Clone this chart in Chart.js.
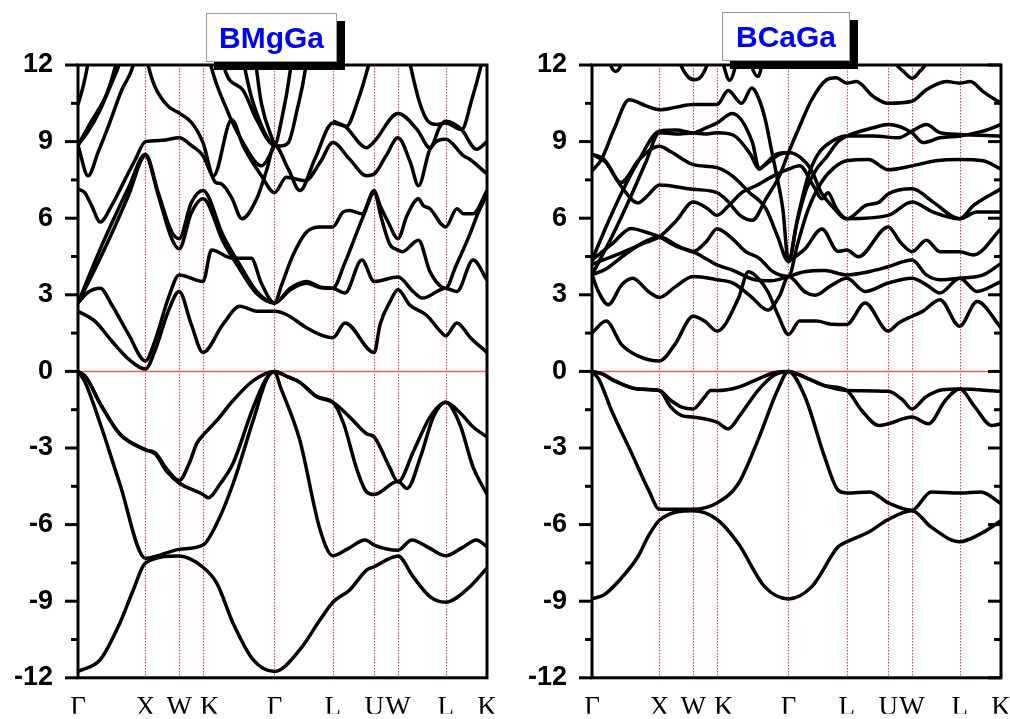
<!DOCTYPE html>
<html lang="en">
<head>
<meta charset="UTF-8">
<title>BMgGa / BCaGa</title>
<script src="https://cdn.jsdelivr.net/npm/chart.js"></script>
<style>
    body { margin: 0; background: #fff; width: 1010px; height: 719px; position: relative; overflow: hidden; }
    .painel { position: absolute; top: 0; width: 505px; height: 719px; }
    .titulo { position: absolute; z-index: 2; background: #fff; border: 1px solid #999; box-shadow: 8px 8px 0 #000;
              color: #0000ff; font: bold 30px "Liberation Sans", Arial, sans-serif; text-align: center; line-height: 47px; }
</style>
</head>
<body>
<div class="painel" style="left: 0;"><canvas id="chartMg"></canvas></div>
<div class="painel" style="left: 505px;"><canvas id="chartCa"></canvas></div>
<div class="titulo" style="left: 206px; top: 13px; width: 129px; height: 47px;">BMgGa</div>
<div class="titulo" style="left: 722px; top: 12px; width: 126px; height: 47px;">BCaGa</div>
<script>
    // caminho de alta simetria (distancia acumulada, 2pi/a)
    const kTicks = [0, 1, 1.5, 1.854, 2.914, 3.780, 4.393, 4.746, 5.453, 6.066];
    const kLabels = ['Γ', 'X', 'W', '  K', 'Γ', 'L', 'U', 'W', 'L', 'K'];
    const eTicks = [-12, -9, -6, -3, 0, 3, 6, 9, 12];

    // ---- BMgGa : bandas [k, E(eV)]
    const mgV1 = [[0,-11.75],[0.33,-11.29],[0.62,-9.86],[0.82,-8.56],[1,-7.5],[1.5,-7.23],[1.854,-7.67],[2.06,-8.3],[2.3,-9.86],[2.6,-11.3],[2.914,-11.75],[3.29,-10.9],[3.59,-9.73],[3.78,-9.04],[4.03,-8.56],[4.28,-7.78],[4.393,-7.65],[4.746,-7.23],[4.97,-8.04],[5.22,-8.82],[5.453,-9.04],[5.76,-8.56],[6.066,-7.71]];
    const mgV2 = [[0,0],[0.1,-0.4],[0.33,-2.05],[0.62,-4.4],[1,-7.32],[1.5,-6.97],[1.854,-6.8],[2.06,-5.95],[2.3,-4.4],[2.6,-1.9],[2.8,-0.3],[2.914,0],[3.0,-0.6],[3.29,-2.7],[3.59,-6.2],[3.78,-7.22],[4.0,-6.95],[4.26,-6.6],[4.393,-6.8],[4.746,-7.0],[4.95,-6.6],[5.2,-6.9],[5.453,-7.22],[5.7,-6.9],[5.91,-6.6],[6.066,-6.87]];
    const mgV3 = [[0,0],[0.12,-0.23],[0.33,-1.27],[0.62,-2.45],[1,-3.07],[1.15,-3.25],[1.31,-3.9],[1.5,-4.37],[1.854,-4.82],[1.93,-4.95],[2.11,-4.4],[2.3,-3.6],[2.6,-1.4],[2.8,-0.25],[2.914,0],[3.1,-0.2],[3.29,-0.43],[3.55,-1.0],[3.78,-1.21],[3.94,-2.05],[4.14,-3.87],[4.28,-4.72],[4.393,-4.82],[4.746,-4.3],[4.88,-4.59],[5.08,-3.35],[5.27,-1.79],[5.453,-1.21],[5.66,-2.05],[5.86,-3.75],[6.066,-4.82]];
    const mgV4 = [[0,0],[0.12,-0.23],[0.33,-1.27],[0.62,-2.45],[1,-3.07],[1.15,-3.2],[1.31,-3.8],[1.5,-4.27],[1.65,-3.6],[1.76,-2.83],[1.854,-2.5],[2.06,-1.92],[2.3,-1.14],[2.6,-0.36],[2.914,0],[3.1,-0.2],[3.29,-0.43],[3.55,-1.0],[3.78,-1.21],[4.03,-1.79],[4.28,-2.44],[4.393,-2.57],[4.62,-3.75],[4.746,-4.33],[4.98,-3.1],[5.22,-1.79],[5.453,-1.21],[5.66,-1.6],[5.86,-2.18],[6.066,-2.57]];
    const mgC1 = [[0,2.36],[0.25,1.97],[0.5,1.19],[0.75,0.48],[1,0.09],[1.14,0.8],[1.34,2.36],[1.5,3.13],[1.68,1.84],[1.854,0.74],[2.15,1.84],[2.4,2.55],[2.65,2.36],[2.914,2.36],[3.09,2.23],[3.39,1.71],[3.64,1.39],[3.78,1.32],[3.96,1.9],[4.393,0.74],[4.48,1.84],[4.63,2.74],[4.746,3.2],[4.92,2.6],[5.17,2.2],[5.37,1.58],[5.453,1.39],[5.62,1.9],[5.82,1.32],[6.066,0.74]];
    const mgC2 = [[0,2.68],[0.15,3.1],[0.33,3.26],[0.5,2.61],[0.75,1.45],[1,0.41],[1.14,1.19],[1.34,2.87],[1.5,3.78],[1.854,3.52],[1.98,4.75],[2.3,4.43],[2.57,4.43],[2.72,3.45],[2.914,2.68],[3.15,3.26],[3.39,3.52],[3.6,3.3],[3.78,3.26],[3.96,3.07],[4.21,4.36],[4.393,3.52],[4.746,3.7],[4.97,3.13],[5.11,2.87],[5.453,3.26],[5.62,3.13],[5.86,4.36],[6.066,3.58]];
    const mgC3 = [[0,2.68],[0.25,4.3],[0.5,5.8],[0.75,7.2],[1,8.5],[1.19,7.0],[1.39,5.46],[1.5,5.2],[1.68,6.6],[1.854,7.08],[2.15,5.33],[2.4,4.17],[2.65,3.13],[2.914,2.68],[3.02,3.39],[3.19,4.56],[3.39,5.46],[3.59,5.66],[3.78,5.66],[3.93,6.24],[4.03,6.3],[4.21,6.17],[4.393,7.08],[4.48,6.5],[4.6,5.85],[4.746,5.2],[4.88,6.11],[5.05,6.76],[5.12,6.5],[5.22,6.37],[5.453,5.66],[5.62,6.37],[5.72,6.17],[5.86,6.17],[6.066,7.08]];
    const mgC4 = [[0,2.68],[0.25,4.0],[0.5,5.4],[0.75,6.9],[1,8.45],[1.19,6.9],[1.39,5.2],[1.5,4.8],[1.68,6.2],[1.854,6.76],[2.15,5.1],[2.4,4.0],[2.65,3.05],[2.914,2.68],[3.15,3.2],[3.39,3.45],[3.6,3.28],[3.78,3.26],[3.95,4.2],[4.1,5.2],[4.25,6.2],[4.393,7.0],[4.5,6.0],[4.62,5.0],[4.746,4.75],[4.81,4.69],[5.05,5.14],[5.22,3.91],[5.453,3.26],[5.6,4.1],[5.8,5.3],[5.95,6.3],[6.066,6.9]];
    const mgC5 = [[0,7.15],[0.1,7.0],[0.2,6.5],[0.33,5.85],[0.5,6.5],[0.7,7.53],[0.85,8.3],[1,9.0],[1.25,9.05],[1.5,9.15],[1.69,8.83],[1.854,8.44],[1.98,7.7],[2.04,7.4],[2.12,7.35],[2.28,6.8],[2.43,5.98],[2.65,6.76],[2.8,7.9],[2.914,8.86],[3.12,7.92],[3.29,7.08],[3.51,8.3],[3.78,9.73],[3.98,9.6],[4.15,10.6],[4.31,12],[4.45,13.5]];
    const mgC6 = [[0,8.86],[0.15,7.66],[0.3,8.6],[0.45,9.6],[0.65,11.03],[0.82,12.0],[0.93,13.5],[1.04,12],[1.14,11.16],[1.34,10.38],[1.5,10.12],[1.69,9.73],[1.854,8.96],[2.01,7.66],[2.28,9.86],[2.45,8.83],[2.72,7.66],[2.914,7.0],[3.09,7.6],[3.37,7.47],[3.59,8.18],[3.78,8.96],[4.03,8.31],[4.28,7.66],[4.393,7.73],[4.57,8.45],[4.746,9.15],[4.93,8.18],[5.05,7.27],[5.22,8.7],[5.453,9.09],[5.72,8.44],[5.81,8.31],[6.066,7.73]];
    const mgC7 = [[3.78,9.8],[3.96,9.6],[4.28,8.76],[4.393,9.0],[4.746,10.1],[5.03,9.47],[5.22,8.76],[5.37,9.6],[5.453,9.8],[5.69,9.47],[5.91,8.7],[6.066,9.0]];
    const mgT1 = [[0,8.86],[0.15,9.4],[0.33,10.25],[0.5,11.3],[0.62,12.1],[0.7,13]];
    const mgT2 = [[0,8.86],[0.2,9.8],[0.43,10.9],[0.57,12.1],[0.65,13]];
    const mgT3 = [[0,10.45],[0.08,11.2],[0.15,12.1],[0.2,13]];
    const mgT4 = [[1.9,13],[1.96,12.1],[2.2,10.3],[2.45,8.95],[2.72,8.05],[2.81,8.3],[2.914,8.86]];
    const mgT5 = [[2.1,13],[2.18,11.8],[2.45,11.0],[2.65,9.86],[2.914,8.86],[3.02,9.86],[3.15,11.8],[3.2,13]];
    const mgT6 = [[2.4,13],[2.48,11.8],[2.6,10.5],[2.914,8.86],[3.0,8.83],[3.12,8.96],[3.25,10.25],[3.37,11.8],[3.42,13]];
    const mgT7 = [[2.6,13],[2.65,11.8],[2.72,10.5],[2.914,8.86]];
    const mgT8 = [[4.85,13],[4.92,12.1],[5.07,10.5],[5.19,9.8],[5.32,9.67],[5.453,9.73],[5.69,9.47],[5.84,10.64],[5.99,12.1],[6.066,13]];
    const mgBands = [mgV1, mgV2, mgV3, mgV4, mgC1, mgC2, mgC3, mgC4, mgC5, mgC6, mgC7, mgT1, mgT2, mgT3, mgT4, mgT5, mgT6, mgT7, mgT8];

    // ---- BCaGa
    const caV1 = [[0,-8.91],[0.18,-8.75],[0.4,-8.2],[0.68,-7.26],[0.83,-6.48],[1,-5.83],[1.5,-5.46],[1.854,-5.8],[2.17,-6.74],[2.56,-8.43],[2.914,-8.91],[3.26,-8.43],[3.65,-6.87],[3.78,-6.67],[4.1,-6.3],[4.393,-5.8],[4.746,-5.46],[5.03,-6.1],[5.453,-6.67],[5.77,-6.35],[6.066,-5.85]];
    const caV2 = [[0,0],[0.1,-0.3],[0.29,-1.53],[0.59,-3.22],[0.84,-4.65],[1,-5.4],[1.5,-5.4],[1.854,-5.15],[2.17,-4.4],[2.46,-2.7],[2.75,-0.75],[2.914,0],[3.16,-1.0],[3.45,-3.35],[3.65,-4.65],[3.78,-4.76],[4.12,-4.72],[4.393,-5.15],[4.746,-5.44],[5.03,-4.72],[5.453,-4.76],[5.77,-4.72],[6.066,-5.18]];
    const caV3 = [[0,0],[0.15,-0.1],[0.33,-0.36],[0.68,-0.69],[1,-0.75],[1.17,-1.4],[1.33,-1.73],[1.5,-1.79],[1.854,-1.99],[2.02,-2.25],[2.2,-1.7],[2.46,-0.75],[2.7,-0.15],[2.914,0],[3.16,-0.23],[3.45,-0.56],[3.78,-0.75],[4.0,-1.53],[4.26,-2.12],[4.393,-2.05],[4.746,-1.79],[4.99,-2.05],[5.24,-1.14],[5.453,-0.69],[5.68,-1.4],[5.93,-2.12],[6.066,-2.05]];
    const caV4 = [[0,0],[0.15,-0.1],[0.33,-0.36],[0.68,-0.69],[1,-0.75],[1.17,-1.14],[1.33,-1.4],[1.5,-1.47],[1.67,-1.0],[1.76,-0.75],[1.854,-0.75],[2.17,-0.62],[2.46,-0.3],[2.7,-0.05],[2.914,0],[3.16,-0.23],[3.45,-0.56],[3.78,-0.75],[4.393,-0.78],[4.6,-1.1],[4.746,-1.47],[4.95,-1.0],[5.2,-0.72],[5.453,-0.69],[6.066,-0.78]];
    const caC1 = [[0,1.51],[0.21,1.97],[0.435,1.06],[0.68,0.61],[1,0.41],[1.23,1.06],[1.5,2.16],[1.67,1.97],[1.854,1.58],[2.17,2.85],[2.32,3.9],[2.47,3.63],[2.61,3.11],[2.76,2.2],[2.914,1.45],[3.08,1.97],[3.33,1.97],[3.55,1.85],[3.78,1.84],[4.05,2.68],[4.393,1.58],[4.55,1.9],[4.746,2.16],[4.91,2.36],[5.16,2.81],[5.453,1.77],[5.71,2.74],[6.066,1.71]];
    const caC2 = [[0,3.78],[0.1,3.1],[0.24,2.61],[0.44,3.39],[0.6,3.65],[0.85,3.1],[1,2.9],[1.23,3.3],[1.5,3.72],[1.854,3.59],[2.1,3.45],[2.35,2.95],[2.61,2.4],[2.78,2.95],[2.914,3.72],[3.16,3.11],[3.31,2.98],[3.55,3.37],[3.78,3.65],[4.05,3.13],[4.393,3.46],[4.746,3.65],[4.96,3.39],[5.16,3.07],[5.453,3.65],[5.71,3.13],[6.066,3.52]];
    const caC3 = [[0,4.36],[0.3,5.0],[0.58,5.6],[0.8,5.45],[1,5.27],[1.25,4.9],[1.5,4.69],[1.7,4.4],[1.854,4.17],[2.1,3.95],[2.4,3.6],[2.65,3.55],[2.914,3.72],[3.15,3.9],[3.45,3.95],[3.78,3.78],[4.12,3.91],[4.393,4.1],[4.746,4.36],[4.96,3.78],[5.16,3.59],[5.453,3.65],[5.8,3.78],[6.066,4.23]];
    const caC4 = [[0,4.2],[0.4,4.6],[0.8,5.05],[1,5.27],[1.25,5.9],[1.5,6.63],[1.7,6.4],[1.854,6.11],[2.03,6.5],[2.23,7.02],[2.43,7.27],[2.65,7.6],[2.914,7.92],[3.08,8.05],[3.28,7.28],[3.41,6.76],[3.5,7.0],[3.62,6.4],[3.78,5.98],[4.393,6.11],[4.746,6.63],[5.06,6.24],[5.453,5.98],[5.71,6.24],[6.066,6.24]];
    const caC5 = [[0,4.36],[0.24,5.85],[0.44,7.0],[0.68,8.2],[1,9.41],[1.25,9.45],[1.5,9.34],[1.7,9.55],[1.854,9.73],[2.08,10.1],[2.38,8.96],[2.48,7.92],[2.6,8.2],[2.73,8.5],[2.914,8.57]];
    const caC6 = [[0,3.78],[0.3,5.3],[0.55,6.7],[0.8,8.2],[1,9.35],[1.25,9.3],[1.5,9.34],[1.7,9.3],[1.854,9.35],[2.1,9.25],[2.35,8.5],[2.47,7.95],[2.6,8.15],[2.78,8.5],[2.914,8.57],[3.08,8.4],[3.25,7.9],[3.4,7.0],[3.55,6.5],[3.78,5.98],[4.06,6.5],[4.26,6.63],[4.393,6.95],[4.746,7.15],[5.06,6.63],[5.453,5.98],[5.66,6.5],[6.066,7.15]];
    const caC7 = [[0,8.5],[0.2,8.2],[0.43,7.4],[0.7,8.3],[1,8.82],[1.17,8.6],[1.5,8.1],[1.854,7.98],[2.08,7.66],[2.33,7.02],[2.58,6.37],[2.75,5.3],[2.914,4.3],[3.03,5.72],[3.18,7.15],[3.33,7.92],[3.48,8.4],[3.65,9.0],[3.78,9.22],[4.17,9.54],[4.393,9.67],[4.746,9.35],[4.91,8.96],[5.16,9.15],[5.453,9.22],[5.8,9.41],[6.066,9.67]];
    const caC8 = [[0,8.5],[0.18,8.3],[0.43,7.26],[0.68,6.6],[0.82,6.87],[1,7.3],[1.5,7.13],[1.854,7.0],[2.0,6.7],[2.2,6.1],[2.38,5.92],[2.58,6.76],[2.78,7.66],[2.914,8.57],[3.08,9.6],[3.25,10.6],[3.48,11.42],[3.62,11.5],[3.78,11.29],[3.92,11.35],[4.17,10.77],[4.393,10.5],[4.746,10.58],[4.96,11.03],[5.26,11.35],[5.453,11.29],[5.61,11.35],[5.8,10.96],[6.066,10.5]];
    const caC9 = [[0,7.85],[0.14,8.3],[0.33,9.5],[0.55,10.64],[0.8,10.4],[1,10.25],[1.25,10.35],[1.5,10.45],[1.854,10.45],[2.02,11.0],[2.22,10.5],[2.37,11.1],[2.48,10.64],[2.57,9.86],[2.66,8.7],[2.75,7.53],[2.83,6.37],[2.914,4.3],[3.05,6.0],[3.2,7.6],[3.35,8.5],[3.55,9.0],[3.78,9.22],[4.17,9.22],[4.55,9.15],[4.746,9.41],[4.96,9.67],[5.16,9.35],[5.453,9.28],[6.066,9.22]];
    const caC10 = [[0,3.78],[0.2,4.0],[0.5,4.6],[0.8,5.1],[1,5.27],[1.25,4.95],[1.5,4.69],[1.7,5.1],[1.854,5.59],[2.08,5.2],[2.28,4.69],[2.48,4.43],[2.68,3.91],[2.914,3.72],[3.05,5.0],[3.2,6.3],[3.4,7.4],[3.6,8.0],[3.78,8.25],[4.1,8.3],[4.393,7.9],[4.746,8.05],[5.1,8.25],[5.453,8.3],[5.8,8.25],[6.066,7.92]];
    const caC11 = [[2.914,4.3],[3.16,4.8],[3.41,5.58],[3.65,4.7],[3.78,4.75],[3.95,4.49],[4.393,5.66],[4.57,5.07],[4.746,4.69],[4.96,5.14],[5.16,4.69],[5.453,4.69],[5.66,4.56],[6.066,5.59]];
    const caT1 = [[0.18,13],[0.26,12.1],[0.35,11.75],[0.44,12.1],[0.5,13]];
    const caT2 = [[1.2,13],[1.3,12.1],[1.42,11.55],[1.52,11.42],[1.62,11.55],[1.72,12.1],[1.8,13]];
    const caT3 = [[1.85,13],[1.94,12.1],[2.04,11.4],[2.14,12.1],[2.2,13]];
    const caT4 = [[2.28,13],[2.35,12.1],[2.46,11.55],[2.53,12.1],[2.6,13]];
    const caT5 = [[4.4,13],[4.5,12.1],[4.62,11.75],[4.75,11.48],[4.86,11.75],[4.96,12.1],[5.05,13]];
    const caBands = [caV1, caV2, caV3, caV4, caC1, caC2, caC3, caC4, caC5, caC6, caC7, caC8, caC9, caC10, caC11, caT1, caT2, caT3, caT4, caT5];

    function bandDatasets(bands) {
        return bands.map(b => ({
            data: b.map(p => ({ x: p[0], y: p[1] })),
            showLine: true,
            borderColor: '#000',
            borderWidth: 3.5,
            pointRadius: 0,
            cubicInterpolationMode: 'monotone'
        }));
    }

    // linhas vermelhas, moldura e tracinhos do eixo
    const moldura = {
        id: 'moldura',
        beforeDatasetsDraw(chart) {
            const { ctx, chartArea: a, scales: { x, y } } = chart;
            ctx.save();
            ctx.strokeStyle = 'rgba(255,0,0,0.8)';
            ctx.lineWidth = 1;
            ctx.setLineDash([1.5, 1.5]);
            kTicks.slice(1, -1).forEach(k => {
                const px = Math.round(x.getPixelForValue(k)) + 0.5;
                ctx.beginPath(); ctx.moveTo(px, a.top); ctx.lineTo(px, a.bottom); ctx.stroke();
            });
            ctx.setLineDash([]);
            ctx.strokeStyle = '#ff5c5c';
            ctx.lineWidth = 1.5;
            const y0 = y.getPixelForValue(0);
            ctx.beginPath(); ctx.moveTo(a.left, y0); ctx.lineTo(a.right, y0); ctx.stroke();
            ctx.restore();
        },
        afterDatasetsDraw(chart, args, opts) {
            const { ctx, chartArea: a, scales: { y } } = chart;
            ctx.save();
            ctx.strokeStyle = '#000';
            ctx.lineWidth = 3;
            ctx.strokeRect(a.left, a.top, a.right - a.left, a.bottom - a.top);
            for (let v = -12; v <= 12; v += 1.5) {
                const py = y.getPixelForValue(v);
                const len = (v % 3 === 0) ? 13 : 7;
                ctx.beginPath(); ctx.moveTo(a.left - len, py); ctx.lineTo(a.left, py); ctx.stroke();
                if (opts.ticksDireita) {
                    ctx.beginPath(); ctx.moveTo(a.right - len, py); ctx.lineTo(a.right, py); ctx.stroke();
                }
            }
            ctx.restore();
        }
    };

    function makeChart(id, bands, axisWidth, padRight, ticksDireita) {
        return new Chart(document.getElementById(id), {
            type: 'scatter',
            data: { datasets: bandDatasets(bands) },
            options: {
                responsive: true,
                maintainAspectRatio: false,
                animation: false,
                layout: { padding: { top: 65, right: padRight, left: 0, bottom: 0 } },
                plugins: { legend: { display: false }, tooltip: { enabled: false }, moldura: { ticksDireita: ticksDireita } },
                scales: {
                    x: {
                        type: 'linear', min: 0, max: 6.066,
                        // altura fixa e sem folga lateral para o rotulo
                        afterFit: s => { s.height = 36; s.paddingLeft = 0; s.paddingRight = 0; },
                        afterBuildTicks: s => { s.ticks = kTicks.map(v => ({ value: v })); },
                        ticks: { autoSkip: false, maxRotation: 0, padding: 14, color: '#000',
                                 font: { family: 'Liberation Serif', size: 27 },
                                 callback: (v, i) => kLabels[i] },
                        grid: { display: false, drawTicks: false },
                        border: { display: false }
                    },
                    y: {
                        min: -12, max: 12,
                        afterFit: s => { s.width = axisWidth; },
                        afterBuildTicks: s => { s.ticks = eTicks.map(v => ({ value: v })); },
                        ticks: { padding: 25, color: '#000', font: { family: 'Liberation Sans', size: 27, weight: 'bold' } },
                        grid: { display: false, drawTicks: false },
                        border: { display: false }
                    }
                }
            },
            plugins: [moldura]
        });
    }

    makeChart('chartMg', mgBands, 78, 18, false);
    makeChart('chartCa', caBands, 87, 9, true);
</script>
</body>
</html>
